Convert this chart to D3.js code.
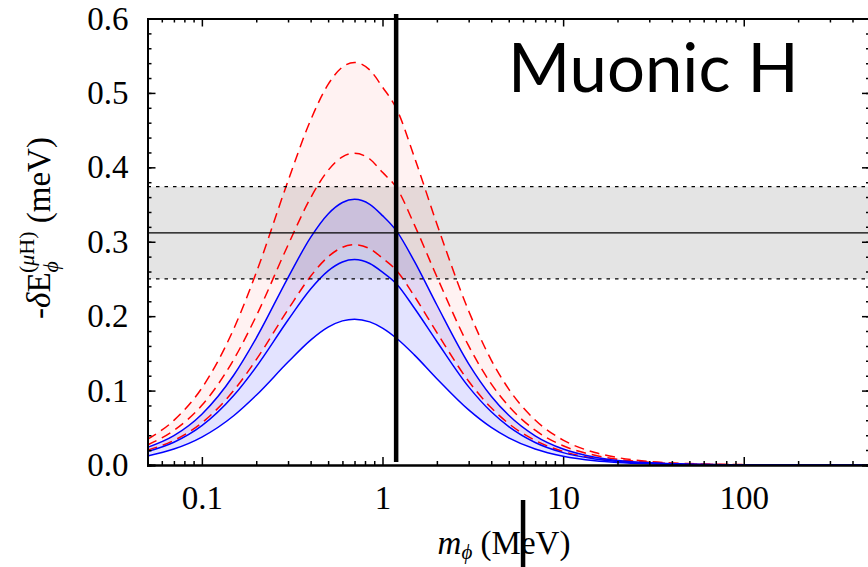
<!DOCTYPE html>
<html>
<head>
<meta charset="utf-8">
<script src="https://cdn.jsdelivr.net/npm/d3@7"></script>
<style>
  body { margin: 0; background: #fff; }
  svg { display: block; }
  .tick text { font-family: "Liberation Serif", "DejaVu Serif", serif; font-size: 33px; fill: #000; }
</style>
</head>
<body>
<div id="chart"></div>
<script>
// mass points (MeV)
const mass = [0.05, 0.07, 0.1, 0.15, 0.2, 0.3, 0.4, 0.5, 0.6, 0.7, 0.85, 1, 1.2, 1.5, 2, 3, 4, 5, 7, 10, 15, 20, 30, 50, 100, 200, 500];

// blue solid curves (meV)
const blueTop = [0.0237, 0.0395, 0.0683, 0.1206, 0.1706, 0.2519, 0.3059, 0.3374, 0.3528, 0.357, 0.3503, 0.3351, 0.314, 0.274, 0.215, 0.1360, 0.0925, 0.0668, 0.0392, 0.0214, 0.0105, 0.0062, 0.0029, 0.0011, 0.0003, 0.0001, 0.0000];
const blueMid = [0.0180, 0.0305, 0.0528, 0.0933, 0.1319, 0.1948, 0.2365, 0.2609, 0.2728, 0.276, 0.2708, 0.2591, 0.243, 0.211, 0.166, 0.1050, 0.0715, 0.0516, 0.0303, 0.0166, 0.0081, 0.0048, 0.0022, 0.0008, 0.0002, 0.0001, 0.0000];
const blueLow = [0.0121, 0.0214, 0.0375, 0.0662, 0.0937, 0.1383, 0.1679, 0.1853, 0.1937, 0.196, 0.1923, 0.1840, 0.1700, 0.1480, 0.1160, 0.0740, 0.0505, 0.0365, 0.0214, 0.0117, 0.0057, 0.0034, 0.0016, 0.0006, 0.0001, 0.0000, 0.0000];

// red dashed curves (meV)
const redTop = [0.0345, 0.0600, 0.1035, 0.1828, 0.2585, 0.3818, 0.4635, 0.5114, 0.5347, 0.541, 0.5309, 0.5078, 0.478, 0.414, 0.324, 0.207, 0.1410, 0.1020, 0.0605, 0.0335, 0.0168, 0.0100, 0.0048, 0.0019, 0.0005, 0.0001, 0.0000];
const redMid = [0.0269, 0.0465, 0.0802, 0.1416, 0.2002, 0.2957, 0.3590, 0.3960, 0.4141, 0.419, 0.4112, 0.3933, 0.372, 0.323, 0.253, 0.160, 0.1090, 0.0790, 0.0468, 0.0259, 0.0130, 0.0078, 0.0037, 0.0014, 0.0004, 0.0001, 0.0000];
const redLow = [0.0200, 0.0330, 0.0566, 0.1000, 0.1415, 0.2089, 0.2536, 0.2798, 0.2925, 0.296, 0.2905, 0.2779, 0.261, 0.227, 0.178, 0.1125, 0.0768, 0.0556, 0.0330, 0.0182, 0.0090, 0.0054, 0.0025, 0.0010, 0.0002, 0.0001, 0.0000];

// measured band (meV)
const bandCentre = 0.312;
const bandLow = 0.25;
const bandHigh = 0.374;

// vertical marker bars [mass, from, to]
const markers = [[1.19, 0.004, 0.606], [6.0, -0.047, -0.15]];

const yTicks = [0.0, 0.1, 0.2, 0.3, 0.4, 0.5, 0.6];
const xTicks = [0.1, 1, 10, 100];
const xTickLabels = ["0.1", "1", "10", "100"];

const width = 868, height = 567;
const svg = d3.select("#chart").append("svg")
    .attr("width", width)
    .attr("height", height);

const x = d3.scaleLog().domain([0.05, 500]).range([147.5, 870]);
const y = d3.scaleLinear().domain([0, 0.6]).range([465, 18.5]);

svg.append("clipPath").attr("id", "plot")
  .append("rect")
    .attr("x", x.range()[0]).attr("y", y.range()[1])
    .attr("width", x.range()[1] - x.range()[0])
    .attr("height", y.range()[0] - y.range()[1]);

const plot = svg.append("g").attr("clip-path", "url(#plot)");

// grey band
plot.append("rect")
    .attr("x", x(0.05)).attr("width", x(500) - x(0.05))
    .attr("y", y(bandHigh)).attr("height", y(bandLow) - y(bandHigh))
    .style("fill", "#e4e4e4");

const rows = mass.map((m, i) => ({m, bt: blueTop[i], bm: blueMid[i], bl: blueLow[i], rt: redTop[i], rm: redMid[i], rl: redLow[i]}));

const area = (hi, lo) => d3.area()
    .x(d => x(d.m)).y0(d => y(d[lo])).y1(d => y(d[hi]))
    .curve(d3.curveMonotoneX);

plot.append("path").attr("d", area("rt", "rl")(rows))
    .style("fill", "rgba(255,0,0,0.05)");
plot.append("path").attr("d", area("bt", "bl")(rows))
    .style("fill", "rgba(0,0,255,0.11)");

const line = key => d3.line().x(d => x(d.m)).y(d => y(d[key])).curve(d3.curveMonotoneX);

["rt", "rm", "rl"].forEach(k => {
  plot.append("path").attr("d", line(k)(rows))
      .style("fill", "none").style("stroke", "#ff0000")
      .style("stroke-width", 1.5).style("stroke-dasharray", "10,6");
});
["bt", "bm", "bl"].forEach(k => {
  plot.append("path").attr("d", line(k)(rows))
      .style("fill", "none").style("stroke", "#0000ff")
      .style("stroke-width", 1.5);
});

// band edges and centre
[bandLow, bandHigh].forEach(v => {
  plot.append("line")
      .attr("x1", x(0.05)).attr("x2", x(500)).attr("y1", y(v)).attr("y2", y(v))
      .style("stroke", "#000").style("stroke-width", 1.3).style("stroke-dasharray", "3.5,5");
});
plot.append("line")
    .attr("x1", x(0.05)).attr("x2", x(500)).attr("y1", y(bandCentre)).attr("y2", y(bandCentre))
    .style("stroke", "#000").style("stroke-width", 1.2);

// axes: ticks inside
const minorX = [];
for (let e = -2; e <= 2; e++) for (let k = 2; k <= 9; k++) {
  const v = k * Math.pow(10, e);
  if (v >= 0.05 && v <= 500) minorX.push(v);
}
const minorY = d3.range(0, 0.601, 0.02);

const frame = svg.append("g");

frame.append("g").attr("transform", `translate(0,${y(0)})`)
    .call(d3.axisBottom(x).tickValues(minorX).tickSize(-4).tickFormat(""));
frame.append("g").attr("transform", `translate(0,${y(0)})`)
    .call(d3.axisBottom(x).tickValues(xTicks).tickSize(-8).tickPadding(21)
      .tickFormat((d, i) => xTickLabels[i]));
frame.append("g").attr("transform", `translate(0,${y(0.6)})`)
    .call(d3.axisTop(x).tickValues(minorX).tickSize(-4).tickFormat(""));
frame.append("g").attr("transform", `translate(0,${y(0.6)})`)
    .call(d3.axisTop(x).tickValues(xTicks).tickSize(-8).tickFormat(""));

frame.append("g").attr("transform", `translate(${x(0.05)},0)`)
    .call(d3.axisLeft(y).tickValues(minorY).tickSize(-4).tickFormat(""));
frame.append("g").attr("transform", `translate(${x(0.05)},0)`)
    .call(d3.axisLeft(y).tickValues(yTicks).tickSize(-8).tickPadding(19)
      .tickFormat(d3.format(".1f")));
frame.append("g").attr("transform", `translate(${x(500)},0)`)
    .call(d3.axisRight(y).tickValues(minorY).tickSize(-4).tickFormat(""));
frame.append("g").attr("transform", `translate(${x(500)},0)`)
    .call(d3.axisRight(y).tickValues(yTicks).tickSize(-8).tickFormat(""));

frame.selectAll(".domain").style("stroke-width", 2);
frame.selectAll(".tick line").style("stroke-width", 1.5);

// vertical marker bars
svg.selectAll(".marker").data(markers).join("line")
    .attr("class", "marker")
    .attr("x1", d => x(d[0])).attr("x2", d => x(d[0]))
    .attr("y1", d => y(d[1])).attr("y2", d => y(d[2]))
    .style("stroke", "#000").style("stroke-width", 4.5);

// title
svg.append("text")
    .attr("x", 508).attr("y", 92)
    .style("font-family", "Lato, 'Open Sans', sans-serif")
    .style("font-size", "67px")
    .text("Muonic H");

// x label
const xl = svg.append("text")
    .attr("x", 504).attr("y", 554)
    .attr("text-anchor", "middle")
    .style("font-family", "'Liberation Serif', 'DejaVu Serif', serif")
    .style("font-size", "33px");
xl.append("tspan").style("font-style", "italic").text("m");
xl.append("tspan").style("font-style", "italic").style("font-size", "21px").attr("dy", 5).text("ϕ");
xl.append("tspan").attr("dy", -5).text(" (MeV)");

// y label
const yl = svg.append("text")
    .attr("transform", "translate(50,228) rotate(-90)")
    .attr("text-anchor", "middle")
    .style("font-family", "'Liberation Serif', 'DejaVu Serif', serif")
    .style("font-size", "33px");
yl.append("tspan").text("-");
yl.append("tspan").style("font-style", "italic").text("δ");
yl.append("tspan").text("E");
yl.append("tspan").style("font-style", "italic").style("font-size", "22px").attr("dy", 8).text("ϕ");
yl.append("tspan").style("font-size", "22px").attr("dx", -12).attr("dy", -24).text("(");
yl.append("tspan").style("font-size", "22px").style("font-style", "italic").text("μ");
yl.append("tspan").style("font-size", "22px").text("H)");
yl.append("tspan").attr("dy", 16).text(" (meV)");
</script>
</body>
</html>
